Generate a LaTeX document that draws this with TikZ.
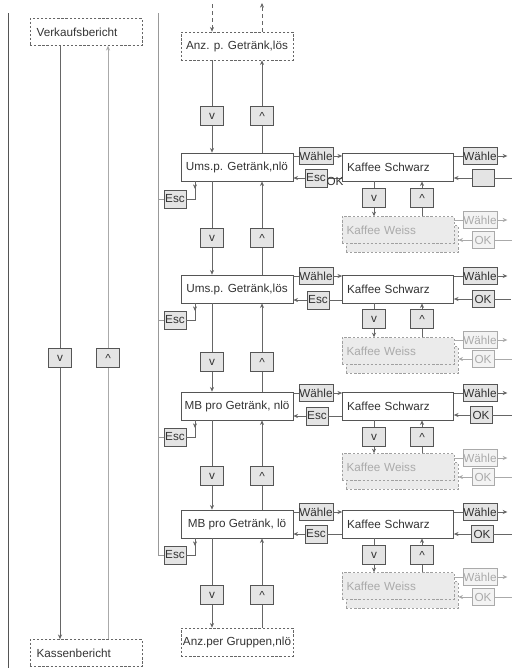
\documentclass[tikz,border=0pt]{standalone}
\usepackage{fontspec}
\setmainfont{Liberation Sans}
\usetikzlibrary{arrows.meta}

\definecolor{txtgray}{HTML}{333333}
\definecolor{boxgray}{HTML}{555555}
\definecolor{keyfill}{HTML}{E4E4E4}
\definecolor{conngray}{HTML}{666666}
\definecolor{midgray}{HTML}{999999}
\definecolor{lgray}{HTML}{AAAAAA}
\definecolor{weissfill}{HTML}{EBEBEB}
\definecolor{weissline}{HTML}{A0A0A0}

\tikzset{
  bigbox/.style={draw=boxgray, fill=white, minimum width=3.36cm, minimum height=0.84cm, inner sep=1pt},
  dbox/.style={draw=conngray, dash pattern=on 2pt off 1.5pt, minimum width=3.36cm, minimum height=0.84cm, inner sep=1pt},
  repbox/.style={draw=conngray, dash pattern=on 2pt off 1.5pt, text width=2.96cm, align=left, inner sep=0.2cm, minimum height=0.81cm},
  kbox/.style={draw=boxgray, fill=white, text width=3.05cm, align=left, inner sep=0.14cm, minimum height=0.84cm},
  weissbox/.style={draw=weissline, fill=weissfill, dash pattern=on 2pt off 1.5pt, text=lgray, text width=3.08cm, align=left, inner sep=0.14cm, minimum height=0.8cm},
  weissback/.style={draw=weissline, fill=weissfill, dash pattern=on 2pt off 1.5pt, minimum width=3.36cm, minimum height=0.8cm},
  keybox/.style={draw=boxgray, fill=keyfill, minimum width=0.69cm, minimum height=0.57cm, inner sep=0.5pt},
  wbox/.style={draw=boxgray, fill=keyfill, minimum width=1.02cm, minimum height=0.51cm, inner sep=0pt},
  escbox/.style={draw=boxgray, fill=keyfill, minimum width=0.66cm, minimum height=0.54cm, inner sep=0.5pt},
  okbox/.style={draw=boxgray, fill=keyfill, minimum width=0.66cm, minimum height=0.51cm, inner sep=0.5pt},
  lwbox/.style={draw=lgray, fill=weissfill!60, text=lgray, minimum width=1.02cm, minimum height=0.51cm, inner sep=0pt},
  lokbox/.style={draw=lgray, fill=weissfill!60, text=lgray, minimum width=0.66cm, minimum height=0.51cm, inner sep=0.5pt},
  conn/.style={draw=conngray},
  lconn/.style={draw=lgray},
  midline/.style={draw=midgray},
  darkline/.style={draw=boxgray}
}

\begin{document}
\begin{tikzpicture}[x=0.03cm, y=-0.03cm, >={Stealth[length=4pt,width=3.5pt]},
    font=\fontsize{10}{12}\selectfont, text=txtgray, line width=0.6pt]
    \useasboundingbox (0,0) rectangle (512,670);

    % 左侧
    \node[repbox] (vb) at (86,32) {Verkaufsbericht};
    \node[repbox] (kb) at (86,653) {Kassenbericht};
    \node[keybox] (lv) at (60,358) {v};
    \node[keybox] (lu) at (108,358) {\textasciicircum};
    \draw[darkline] (8,13) -- (8,668);
    \draw[conn] (lv |- vb.south) -- (lv.north);
    \draw[conn,->] (lv.south) -- (lv |- kb.north);
    \draw[lconn] (lu |- kb.north) -- (lu.south);
    \draw[lconn,->] (lu.north) -- (lu |- vb.south);

    % 中间列
    \node[dbox] (anz1) at (237,46) {Anz. p. Getränk,lös};
    \node[bigbox] (ums1) at (237,167) {Ums.p. Getränk,nlö};
    \node[bigbox] (ums2) at (237,289) {Ums.p. Getränk,lös};
    \node[bigbox] (mb1) at (237,406) {MB pro Getränk, nlö};
    \node[bigbox] (mb2) at (237,524) {MB pro Getränk, lö};
    \node[dbox] (anz2) at (237,642) {Anz.per Gruppen,nlö};

    \node[keybox] (v0) at (212,116) {v};
    \node[keybox] (v1) at (212,238) {v};
    \node[keybox] (v2) at (212,362) {v};
    \node[keybox] (v3) at (212,476) {v};
    \node[keybox] (v4) at (212,595) {v};
    \node[keybox] (u0) at (262,116) {\textasciicircum};
    \node[keybox] (u1) at (262,238) {\textasciicircum};
    \node[keybox] (u2) at (262,362) {\textasciicircum};
    \node[keybox] (u3) at (262,476) {\textasciicircum};
    \node[keybox] (u4) at (262,595) {\textasciicircum};

    % 入口和出口
    \coordinate (in1) at (212,4);
    \coordinate (out1) at (262,3);
    \draw[conn,dashed,->] (in1) -- (in1 |- anz1.north);
    \draw[conn,dashed,->] (out1 |- anz1.north) -- (out1);

    % 向下
    \draw[conn] (v0 |- anz1.south) -- (v0.north);
    \draw[conn,->] (v0.south) -- (v0 |- ums1.north);
    \draw[conn] (v1 |- ums1.south) -- (v1.north);
    \draw[conn,->] (v1.south) -- (v1 |- ums2.north);
    \draw[conn] (v2 |- ums2.south) -- (v2.north);
    \draw[conn,->] (v2.south) -- (v2 |- mb1.north);
    \draw[conn] (v3 |- mb1.south) -- (v3.north);
    \draw[conn,->] (v3.south) -- (v3 |- mb2.north);
    \draw[conn] (v4 |- mb2.south) -- (v4.north);
    \draw[conn,->] (v4.south) -- (v4 |- anz2.north);

    % 向上
    \draw[conn] (u4 |- anz2.north) -- (u4.south);
    \draw[conn,->] (u4.north) -- (u4 |- mb2.south);
    \draw[conn] (u3 |- mb2.north) -- (u3.south);
    \draw[conn,->] (u3.north) -- (u3 |- mb1.south);
    \draw[conn] (u2 |- mb1.north) -- (u2.south);
    \draw[conn,->] (u2.north) -- (u2 |- ums2.south);
    \draw[conn] (u1 |- ums2.north) -- (u1.south);
    \draw[conn,->] (u1.north) -- (u1 |- ums1.south);
    \draw[conn] (u0 |- ums1.north) -- (u0.south);
    \draw[conn,->] (u0.north) -- (u0 |- anz1.south);

    % 左边的 Esc
    \coordinate (lt) at (158,13);
    \node[escbox] (le1) at (175,199) {Esc};
    \node[escbox] (le2) at (175,320) {Esc};
    \node[escbox] (le3) at (175,437) {Esc};
    \node[escbox] (le4) at (175,555) {Esc};
    \draw[midline] (lt) |- (le4.west);
    \draw[midline] (le1.west -| lt) -- (le1.west);
    \draw[midline] (le2.west -| lt) -- (le2.west);
    \draw[midline] (le3.west -| lt) -- (le3.west);
    \coordinate (b1) at (195,181);
    \coordinate (b2) at (195,303);
    \coordinate (b3) at (195,420);
    \coordinate (b4) at (195,538);
    \draw[conn] (le1.east) -| (b1);
    \draw[conn] (le2.east) -| (b2);
    \draw[conn] (le3.east) -| (b3);
    \draw[conn] (le4.east) -| (b4);
    \draw[conn,->] (b1) -- ++(0,8);
    \draw[conn,->] (b2) -- ++(0,8);
    \draw[conn,->] (b3) -- ++(0,8);
    \draw[conn,->] (b4) -- ++(0,8);

    % 第一行
    \node[wbox] (w1) at (316,156) {Wähle};
    \node[escbox] (e1) at (316,178) {Esc};
    \node[kbox] (ks1) at (398,167) {Kaffee Schwarz};
    \node[wbox] (rw1) at (480,156) {Wähle};
    \node[okbox] (rk1) at (483,178) {};
    \node[keybox] (kv1) at (374,198) {v};
    \node[keybox] (ku1) at (422,198) {\textasciicircum};
    \node[weissback] (kb1) at (402,239) {};
    \node[weissbox] (kw1) at (398,230) {Kaffee Weiss};
    \node[lwbox] (lw1) at (480,220) {Wähle};
    \node[lokbox] (lk1) at (483,240) {OK};
    \draw[conn] (ums1.east |- w1) -- (w1);
    \draw[conn,->] (w1) -- (ks1.west |- w1);
    \draw[conn] (ks1.west |- e1) -- (e1);
    \draw[conn,->] (e1) -- (ums1.east |- e1);
    \node[inner sep=0pt] (ok1) at (335,181) {OK};
    \draw[conn] (ks1.east |- rw1) -- (rw1);
    \draw[conn,->] (rw1.east) -- ++(10,0);
    \draw[conn] (rk1.east) -- ++(18,0);
    \draw[conn,->] (rk1.west) -- (ks1.east |- rk1);
    \draw[conn] (kv1 |- ks1.south) -- (kv1.north);
    \draw[conn,->] (kv1.south) -- (kv1 |- kw1.north);
    \draw[conn] (ku1 |- kw1.north) -- (ku1.south);
    \draw[conn,->] (ku1.north) -- (ku1 |- ks1.south);
    \draw[lconn] (kw1.east |- lw1) -- (lw1);
    \draw[lconn,->] (lw1.east) -- ++(10,0);
    \draw[lconn] (lk1.east) -- ++(18,0);
    \draw[lconn,->] (lk1.west) -- (kb1.east |- lk1);

    % 第二行
    \node[wbox] (w2) at (316,276) {Wähle};
    \node[escbox] (e2) at (318,300) {Esc};
    \node[kbox] (ks2) at (398,289) {Kaffee Schwarz};
    \node[wbox] (rw2) at (480,276) {Wähle};
    \node[okbox] (rk2) at (483,299) {OK};
    \node[keybox] (kv2) at (374,319) {v};
    \node[keybox] (ku2) at (422,319) {\textasciicircum};
    \node[weissback] (kb2) at (402,360) {};
    \node[weissbox] (kw2) at (398,351) {Kaffee Weiss};
    \node[lwbox] (lw2) at (480,340) {Wähle};
    \node[lokbox] (lk2) at (483,359) {OK};
    \draw[conn] (ums2.east |- w2) -- (w2);
    \draw[conn,->] (w2) -- (ks2.west |- w2);
    \draw[conn] (ks2.west |- e2) -- (e2);
    \draw[conn,->] (e2) -- (ums2.east |- e2);
    \draw[conn] (ks2.east |- rw2) -- (rw2);
    \draw[conn,->] (rw2.east) -- ++(10,0);
    \draw[conn] (rk2.east) -- ++(17,0);
    \draw[conn,->] (rk2.west) -- (ks2.east |- rk2);
    \draw[conn] (kv2 |- ks2.south) -- (kv2.north);
    \draw[conn,->] (kv2.south) -- (kv2 |- kw2.north);
    \draw[conn] (ku2 |- kw2.north) -- (ku2.south);
    \draw[conn,->] (ku2.north) -- (ku2 |- ks2.south);
    \draw[lconn] (kw2.east |- lw2) -- (lw2);
    \draw[lconn,->] (lw2.east) -- ++(10,0);
    \draw[lconn] (lk2.east) -- ++(18,0);
    \draw[lconn,->] (lk2.west) -- (kb2.east |- lk2);

    % 第三行
    \node[wbox] (w3) at (316,393) {Wähle};
    \node[escbox] (e3) at (317,416) {Esc};
    \node[kbox] (ks3) at (398,406) {Kaffee Schwarz};
    \node[wbox] (rw3) at (480,393) {Wähle};
    \node[okbox] (rk3) at (481,415) {OK};
    \node[keybox] (kv3) at (374,437) {v};
    \node[keybox] (ku3) at (422,437) {\textasciicircum};
    \node[weissback] (kb3) at (402,476) {};
    \node[weissbox] (kw3) at (398,467) {Kaffee Weiss};
    \node[lwbox] (lw3) at (480,458) {Wähle};
    \node[lokbox] (lk3) at (483,477) {OK};
    \draw[conn] (mb1.east |- w3) -- (w3);
    \draw[conn,->] (w3) -- (ks3.west |- w3);
    \draw[conn] (ks3.west |- e3) -- (e3);
    \draw[conn,->] (e3) -- (mb1.east |- e3);
    \draw[conn] (ks3.east |- rw3) -- (rw3);
    \draw[conn,->] (rw3.east) -- ++(10,0);
    \draw[conn] (rk3.east) -- ++(20,0);
    \draw[conn,->] (rk3.west) -- (ks3.east |- rk3);
    \draw[conn] (kv3 |- ks3.south) -- (kv3.north);
    \draw[conn,->] (kv3.south) -- (kv3 |- kw3.north);
    \draw[conn] (ku3 |- kw3.north) -- (ku3.south);
    \draw[conn,->] (ku3.north) -- (ku3 |- ks3.south);
    \draw[lconn] (kw3.east |- lw3) -- (lw3);
    \draw[lconn,->] (lw3.east) -- ++(10,0);
    \draw[lconn] (lk3.east) -- ++(18,0);
    \draw[lconn,->] (lk3.west) -- (kb3.east |- lk3);

    % 第四行
    \node[wbox] (w4) at (316,512) {Wähle};
    \node[escbox] (e4) at (316,534) {Esc};
    \node[kbox] (ks4) at (398,524) {Kaffee Schwarz};
    \node[wbox] (rw4) at (480,512) {Wähle};
    \node[okbox] (rk4) at (482,534) {OK};
    \node[keybox] (kv4) at (374,555) {v};
    \node[keybox] (ku4) at (422,555) {\textasciicircum};
    \node[weissback] (kb4) at (402,595) {};
    \node[weissbox] (kw4) at (398,586) {Kaffee Weiss};
    \node[lwbox] (lw4) at (480,577) {Wähle};
    \node[lokbox] (lk4) at (483,597) {OK};
    \draw[conn] (mb2.east |- w4) -- (w4);
    \draw[conn,->] (w4) -- (ks4.west |- w4);
    \draw[conn] (ks4.west |- e4) -- (e4);
    \draw[conn,->] (e4) -- (mb2.east |- e4);
    \draw[conn] (ks4.east |- rw4) -- (rw4);
    \draw[conn,->] (rw4.east) -- ++(10,0);
    \draw[conn] (rk4.east) -- ++(19,0);
    \draw[conn,->] (rk4.west) -- (ks4.east |- rk4);
    \draw[conn] (kv4 |- ks4.south) -- (kv4.north);
    \draw[conn,->] (kv4.south) -- (kv4 |- kw4.north);
    \draw[conn] (ku4 |- kw4.north) -- (ku4.south);
    \draw[conn,->] (ku4.north) -- (ku4 |- ks4.south);
    \draw[lconn] (kw4.east |- lw4) -- (lw4);
    \draw[lconn,->] (lw4.east) -- ++(10,0);
    \draw[lconn] (lk4.east) -- ++(18,0);
    \draw[lconn,->] (lk4.west) -- (kb4.east |- lk4);
\end{tikzpicture}
\end{document}
